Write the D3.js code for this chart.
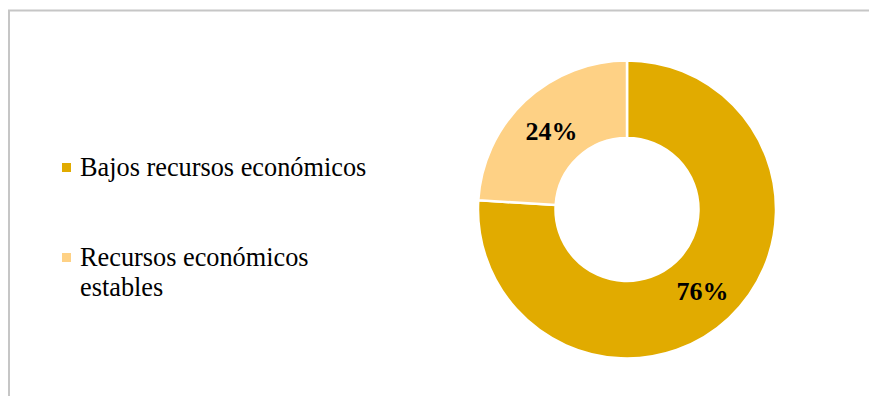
<!DOCTYPE html>
<html><head><meta charset="utf-8">
<script src="https://cdn.jsdelivr.net/npm/d3@7"></script>
<style>html,body{margin:0;padding:0;background:#fff;overflow:hidden}</style>
</head><body>
<svg id="c" width="869" height="396"></svg>
<script>
const categories = ["Bajos recursos económicos", "Recursos económicos estables"];
const values = [76, 24];
const labels = ["76%", "24%"];
const legendLines = [["Bajos recursos económicos"], ["Recursos económicos", "estables"]];
const colors = ["#E1AB00", "#FED185"];

const svg = d3.select("#c");
const serif = "'Liberation Serif','Times New Roman',Times,serif";
// frame
svg.append("line").attr("x1", 8).attr("x2", 869).attr("y1", 10.5).attr("y2", 10.5)
  .attr("stroke", "#c6c6c6").attr("stroke-width", 2);
svg.append("line").attr("x1", 9).attr("x2", 9).attr("y1", 10).attr("y2", 396)
  .attr("stroke", "#c6c6c6").attr("stroke-width", 2);

const cx = 627, cy = 209.5, R = 149, r = 71.5;
const pie = d3.pie().sort(null).value(d => d);
const arc = d3.arc().innerRadius(r).outerRadius(R);
const g = svg.append("g").attr("transform", `translate(${cx},${cy})`);
const arcs = pie(values);
g.selectAll("path").data(arcs).join("path")
  .attr("d", arc).attr("fill", (d, i) => colors[i])
  .attr("stroke", "#fff").attr("stroke-width", 2.5);
g.selectAll("text").data(arcs).join("text")
  .attr("transform", d => `translate(${arc.centroid(d)})`)
  .attr("text-anchor", "middle").attr("dy", "0.4em")
  .attr("font-family", serif)
  .attr("font-weight", "bold").attr("font-size", 26).attr("fill", "#000")
  .text((d, i) => labels[i]);

// legend
const ly = [163, 253];
const lg = svg.append("g");
categories.forEach((c, i) => {
  lg.append("rect").attr("x", 62).attr("y", ly[i]).attr("width", 9).attr("height", 9).attr("fill", colors[i]);
  const t = lg.append("text").attr("x", 80).attr("y", ly[i] + 13)
    .attr("font-family", serif)
    .attr("font-size", 26.3).attr("fill", "#000");
  legendLines[i].forEach((l, j) => {
    t.append("tspan").attr("x", 80).attr("dy", j === 0 ? 0 : 29.5).text(l);
  });
});
</script>
</body></html>
